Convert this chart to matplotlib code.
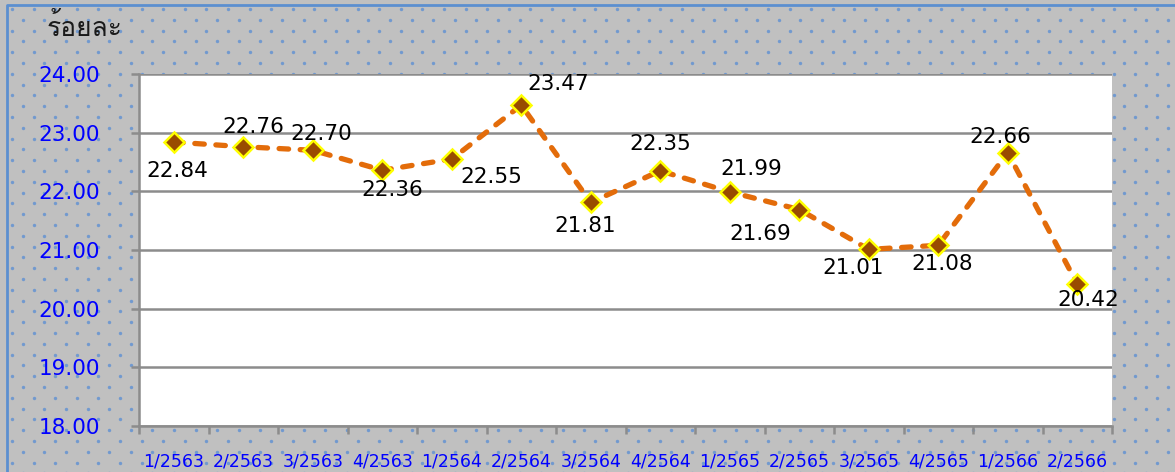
import numpy as np
import matplotlib
matplotlib.use("Agg")
import matplotlib.pyplot as plt
from matplotlib import font_manager
from matplotlib.ft2font import FT2Font
from matplotlib.patches import Rectangle

quarters = ['1/2563', '2/2563', '3/2563', '4/2563', '1/2564', '2/2564', '3/2564',
            '4/2564', '1/2565', '2/2565', '3/2565', '4/2565', '1/2566', '2/2566']
values = [22.84, 22.76, 22.70, 22.36, 22.55, 23.47, 21.81,
          22.35, 21.99, 21.69, 21.01, 21.08, 22.66, 20.42]
y_ticks = [18, 19, 20, 21, 22, 23, 24]
unit_label = 'ร้อยละ'

# label offsets in pixels (dx, dy) from each point
label_offsets = [(4, -29), (10, 20), (8, 16), (10, -20), (40, -18), (37, 21), (-6, -24),
                 (0, 27), (22, 23), (-39, -24), (-16, -19), (4, -19), (-7, 16), (11, -16)]


def find_thai_font():
    for f in font_manager.fontManager.ttflist:
        try:
            cmap = FT2Font(f.fname).get_charmap()
        except Exception:
            continue
        if ord('ร') in cmap and ord('ะ') in cmap:
            return f.name
    return 'DejaVu Sans'


thai_font = find_thai_font()

fig = plt.figure(figsize=(11.75, 4.72), dpi=100)
W, H = 1175, 472

# background with dot pattern
bg = fig.add_axes([0, 0, 1, 1])
bg.set_xlim(0, W)
bg.set_ylim(H, 0)
bg.axis('off')
bg.add_patch(Rectangle((0, 0), W, H, color='#c0c0c0', zorder=0))
xs, ys = [], []
for r, yy in enumerate(np.arange(9, H + 10, 10.8)):
    shift = 0 if r % 2 == 0 else 10.8
    for xx in np.arange(12 + shift, W + 10, 21.6):
        xs.append(xx)
        ys.append(yy)
bg.scatter(xs, ys, s=6, color='#7199cf', linewidths=0, zorder=1)
bg.plot([7, 7, W], [H, 5, 5], color='#5b8fd0', lw=2, zorder=2)

ax = fig.add_axes([139 / W, 1 - 426 / H, (1112 - 139) / W, (426 - 74) / H])
ax.set_facecolor('white')
x = np.arange(len(values))
ax.set_xlim(-0.5, len(values) - 0.5)
ax.set_ylim(18, 24)

ax.yaxis.grid(True, color='#8c8c8c', lw=1.8)
ax.set_axisbelow(True)
ax.plot(x, values, color='#e36c0a', lw=3.8, ls=(0, (1.8, 2.2)),
        dash_capstyle='round', zorder=3)
ax.plot(x, values, ls='none', marker='D', ms=10, mfc='#994c00',
        mec='#ffff00', mew=1.8, zorder=4)

for xi, v, (dx, dy) in zip(x, values, label_offsets):
    ax.annotate(f'{v:.2f}', (xi, v), xytext=(dx * 0.72, dy * 0.72),
                textcoords='offset points', ha='center', va='center',
                fontsize=15.5, color='black', zorder=5)

ax.set_yticks(y_ticks)
ax.set_yticklabels([f'{t:.2f}' for t in y_ticks], color='#0000ff', fontsize=15.5)
ax.set_xticks(x)
ax.set_xticklabels(quarters, color='#0000ff', fontsize=12.5)
ax.set_xticks(np.arange(-0.5, len(values)), minor=True)
ax.tick_params(axis='x', which='major', length=0, pad=19)
ax.tick_params(axis='x', which='minor', length=6, width=1.8, color='#8c8c8c')
ax.tick_params(axis='y', length=6, width=1.8, color='#8c8c8c', pad=22)

for side in ['top', 'right']:
    ax.spines[side].set_visible(False)
for side in ['left', 'bottom']:
    ax.spines[side].set_color('#8c8c8c')
    ax.spines[side].set_linewidth(1.8)

fig.text(47 / W, 1 - 27 / H, unit_label, family=[thai_font, 'DejaVu Sans'],
         fontsize=19, color='#1a1a1a', va='center', ha='left')

fig.savefig('out.png', dpi=100)
